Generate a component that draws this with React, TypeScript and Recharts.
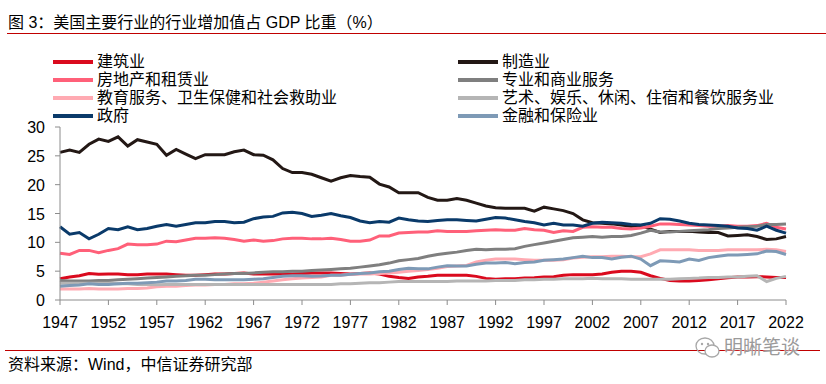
import React from "react";
import { Line, LineChart, XAxis, YAxis } from "recharts";

// 1947 - 2022, annual
const years = Array.from({ length: 76 }, (_, i) => 1947 + i);

const xTicks = [1947, 1952, 1957, 1962, 1967, 1972, 1977, 1982, 1987, 1992, 1997, 2002, 2007, 2012, 2017, 2022];
const yTicks = [0, 5, 10, 15, 20, 25, 30];

// 建筑业
const construction = [
  3.7, 4.0, 4.2, 4.6, 4.45, 4.5, 4.5, 4.4, 4.4, 4.5, 4.5, 4.5, 4.4, 4.3, 4.3, 4.4, 4.5, 4.5, 4.6, 4.7,
  4.5, 4.5, 4.5, 4.5, 4.5, 4.6, 4.7, 4.7, 4.7, 4.6, 4.5, 4.6, 4.7, 4.5, 4.1, 3.9, 3.75, 4.0, 4.1, 4.3,
  4.3, 4.3, 4.3, 4.1, 3.75, 3.6, 3.7, 3.7, 3.8, 3.85, 4.0, 4.05, 4.3, 4.4, 4.4, 4.4, 4.5, 4.8, 5.0, 5.0,
  4.8, 4.2, 3.75, 3.4, 3.3, 3.3, 3.4, 3.5, 3.7, 3.85, 4.0, 4.0, 4.05, 4.0, 3.9, 3.9,
];

// 制造业
const manufacturing = [
  25.6, 26.0, 25.6, 27.0, 27.9, 27.5, 28.3, 26.7, 27.8, 27.4, 27.0, 25.1, 26.1, 25.3, 24.5, 25.2, 25.2, 25.2, 25.7, 26.0,
  25.2, 25.1, 24.3, 22.8, 22.1, 22.1, 21.8, 21.2, 20.6, 21.2, 21.6, 21.4, 21.3, 20.1, 19.6, 18.6, 18.6, 18.6, 17.8, 17.3,
  17.3, 17.6, 17.3, 16.8, 16.3, 16.0, 15.9, 15.9, 15.9, 15.4, 16.1, 15.8, 15.5, 15.0, 13.9, 13.4, 13.3, 13.2, 13.0, 12.8,
  12.9, 12.3, 11.7, 11.9, 11.9, 11.9, 11.8, 11.7, 11.7, 11.1, 11.2, 11.3, 11.0, 10.5, 10.6, 11.0,
];

// 房地产和租赁业
const realEstate = [
  8.1, 7.9, 8.6, 8.6, 8.2, 8.6, 8.9, 9.7, 9.6, 9.6, 9.7, 10.2, 10.1, 10.4, 10.7, 10.7, 10.8, 10.7, 10.5, 10.2,
  10.4, 10.2, 10.3, 10.6, 10.7, 10.7, 10.6, 10.6, 10.7, 10.5, 10.2, 10.2, 10.4, 11.1, 11.1, 11.6, 11.7, 11.8, 11.8, 12.0,
  11.9, 11.9, 11.9, 12.0, 12.1, 12.2, 12.1, 12.1, 12.4, 12.2, 12.1, 11.7, 12.0, 11.9, 12.6, 12.7, 12.6, 12.6, 12.4, 12.3,
  12.5, 12.8, 13.2, 13.2, 13.1, 13.0, 12.9, 12.8, 12.8, 12.9, 12.8, 12.8, 12.9, 13.3, 12.6, 12.3,
];

// 专业和商业服务
const professional = [
  3.4, 3.3, 3.3, 3.3, 3.4, 3.4, 3.5, 3.6, 3.7, 3.8, 3.9, 4.0, 4.1, 4.2, 4.3, 4.3, 4.4, 4.5, 4.6, 4.6,
  4.7, 4.8, 4.9, 4.9, 5.0, 5.0, 5.1, 5.2, 5.3, 5.4, 5.5, 5.7, 5.9, 6.1, 6.4, 6.8, 7.0, 7.2, 7.6, 7.9,
  8.1, 8.3, 8.6, 8.8, 8.7, 8.8, 8.8, 8.9, 9.3, 9.6, 9.9, 10.2, 10.5, 10.8, 10.9, 11.0, 10.9, 11.0, 11.0, 11.2,
  11.6, 12.1, 11.8, 11.8, 11.9, 12.0, 12.1, 12.2, 12.4, 12.5, 12.6, 12.7, 12.8, 13.1, 13.1, 13.2,
];

// 教育服务、卫生保健和社会救助业
const education = [
  1.9, 1.9, 1.9, 2.0, 1.9, 1.9, 1.9, 2.0, 2.0, 2.1, 2.3, 2.4, 2.4, 2.5, 2.6, 2.6, 2.7, 2.7, 2.8, 2.8,
  2.9, 3.1, 3.3, 3.5, 3.7, 3.8, 3.9, 4.0, 4.3, 4.3, 4.45, 4.5, 4.5, 4.6, 4.7, 4.8, 5.0, 5.1, 5.3, 5.5,
  5.8, 5.9, 6.0, 6.6, 6.9, 7.1, 7.1, 7.1, 7.0, 6.9, 6.9, 6.9, 7.0, 7.3, 7.4, 7.5, 7.5, 7.6, 7.6, 7.5,
  7.5, 8.0, 8.7, 8.7, 8.7, 8.7, 8.6, 8.6, 8.6, 8.7, 8.7, 8.7, 8.7, 8.8, 8.7, 8.4,
];

// 艺术、娱乐、休闲、住宿和餐饮服务业
const arts = [
  2.9, 2.9, 2.9, 2.9, 2.9, 2.9, 2.8, 2.8, 2.7, 2.7, 2.65, 2.7, 2.7, 2.7, 2.7, 2.7, 2.7, 2.7, 2.7, 2.7,
  2.7, 2.7, 2.7, 2.7, 2.7, 2.7, 2.7, 2.7, 2.7, 2.8, 2.8, 2.9, 3.0, 3.0, 3.1, 3.2, 3.2, 3.2, 3.2, 3.2,
  3.2, 3.3, 3.3, 3.3, 3.3, 3.4, 3.4, 3.4, 3.5, 3.5, 3.6, 3.6, 3.7, 3.7, 3.7, 3.75, 3.7, 3.7, 3.7, 3.6,
  3.6, 3.6, 3.6, 3.6, 3.7, 3.75, 3.8, 3.9, 3.9, 4.0, 4.0, 4.1, 4.2, 3.2, 3.75, 4.1,
];

// 政府
const government = [
  12.7, 11.4, 11.7, 10.6, 11.4, 12.4, 12.2, 12.7, 12.2, 12.4, 12.8, 13.1, 12.8, 13.1, 13.4, 13.4, 13.6, 13.6, 13.4, 13.5,
  14.1, 14.4, 14.5, 15.1, 15.2, 15.0, 14.5, 14.7, 15.0, 14.6, 14.3, 13.7, 13.4, 13.6, 13.5, 14.2, 13.9, 13.7, 13.6, 13.8,
  13.9, 13.9, 13.8, 13.7, 14.0, 14.3, 14.2, 13.9, 13.6, 13.4, 13.0, 13.3, 13.0, 13.0, 12.8, 13.3, 13.5, 13.4, 13.3, 13.1,
  13.0, 13.3, 14.1, 14.0, 13.7, 13.3, 13.1, 13.0, 12.9, 12.8, 12.5, 12.4, 12.1, 12.8, 12.1, 11.6,
];

// 金融和保险业
const finance = [
  2.4, 2.5, 2.6, 2.8, 2.7, 2.7, 2.8, 2.9, 2.9, 3.0, 3.1, 3.3, 3.3, 3.4, 3.6, 3.6, 3.5, 3.5, 3.5, 3.5,
  3.6, 3.7, 3.9, 4.1, 4.2, 4.2, 4.1, 4.15, 4.3, 4.3, 4.45, 4.6, 4.7, 4.9, 5.0, 5.3, 5.5, 5.4, 5.4, 5.7,
  5.95, 5.9, 5.9, 6.2, 6.4, 6.4, 6.5, 6.3, 6.5, 6.6, 6.9, 7.0, 7.1, 7.35, 7.6, 7.35, 7.35, 7.1, 7.4, 7.6,
  7.1, 5.95, 6.8, 6.7, 6.6, 7.1, 6.85, 7.35, 7.6, 7.8, 7.8, 7.9, 8.0, 8.5, 8.4, 7.9,
];

const series = [
  { key: "construction", name: "建筑业", color: "#DA0A1E", values: construction },
  { key: "manufacturing", name: "制造业", color: "#231815", values: manufacturing },
  { key: "realEstate", name: "房地产和租赁业", color: "#FF6079", values: realEstate },
  { key: "professional", name: "专业和商业服务", color: "#7F7F7F", values: professional },
  { key: "education", name: "教育服务、卫生保健和社会救助业", color: "#FFAAB2", values: education },
  { key: "arts", name: "艺术、娱乐、休闲、住宿和餐饮服务业", color: "#B5B5B5", values: arts },
  { key: "government", name: "政府", color: "#0A3A6A", values: government },
  { key: "finance", name: "金融和保险业", color: "#7E9AB6", values: finance },
];

const data = years.map((year, i) => {
  const row: Record<string, number> = { year };
  series.forEach((s) => (row[s.key] = s.values[i]));
  return row;
});

const FONT = "'Liberation Sans', Arial, 'Noto Sans CJK SC', sans-serif";

const XTick = ({ x, y, payload }: any) => (
  <text x={x} y={y + 21} textAnchor="middle" fontSize={16} fill="#000" fontFamily={FONT}>
    {payload.value}
  </text>
);

const YTick = ({ x, y, payload }: any) => (
  <text x={x - 8} y={y + 6} textAnchor="end" fontSize={16} fill="#000" fontFamily={FONT}>
    {payload.value}
  </text>
);

const LegendItem = ({ name, color, left, top }: { name: string; color: string; left: number; top: number }) => (
  <div style={{ position: "absolute", left, top, height: 18, display: "flex", alignItems: "center" }}>
    <span style={{ width: 40, height: 4, background: color, display: "inline-block", marginRight: 4 }} />
    <span style={{ fontSize: 16, lineHeight: "18px", whiteSpace: "nowrap", color: "#000" }}>{name}</span>
  </div>
);

export default function App() {
  const rowTops = [53, 71, 89, 107];
  return (
    <div
      style={{
        position: "absolute",
        left: 0,
        top: 0,
        width: 826,
        height: 384,
        background: "#fff",
        fontFamily: FONT,
        overflow: "hidden",
      }}
    >
      <div style={{ position: "absolute", left: 8, top: 13, fontSize: 16, lineHeight: "20px", color: "#000", whiteSpace: "nowrap" }}>
        图 3：美国主要行业的行业增加值占 GDP 比重（%）
      </div>
      <div style={{ position: "absolute", left: 7, top: 33, width: 819, height: 1, background: "#C00000" }} />

      {series.map((s, i) => (
        <LegendItem
          key={s.key}
          name={s.name}
          color={s.color}
          left={i % 2 === 0 ? 53 : 458}
          top={rowTops[Math.floor(i / 2)]}
        />
      ))}

      <div style={{ position: "absolute", left: 0, top: 0 }}>
        <LineChart width={826} height={384} data={data} margin={{ top: 127, right: 40, bottom: 54, left: 0 }}>
          <XAxis
            dataKey="year"
            type="number"
            domain={[1947, 2022]}
            ticks={xTicks}
            height={30}
            stroke="#8C8C8C"
            tickSize={5}
            tick={<XTick />}
            interval={0}
          />
          <YAxis
            type="number"
            domain={[0, 30]}
            ticks={yTicks}
            width={60}
            stroke="#8C8C8C"
            tickSize={5}
            tick={<YTick />}
            interval={0}
          />
          {series.map((s) => (
            <Line
              key={s.key}
              type="linear"
              dataKey={s.key}
              name={s.name}
              stroke={s.color}
              strokeWidth={3}
              dot={false}
              isAnimationActive={false}
            />
          ))}
        </LineChart>
      </div>

      <div style={{ position: "absolute", left: 5, top: 350, width: 815, height: 1, background: "#C00000" }} />
      <div style={{ position: "absolute", left: 8, top: 355, fontSize: 16, lineHeight: "20px", color: "#000", whiteSpace: "nowrap" }}>
        资料来源：Wind，中信证券研究部
      </div>
      {/* watermark */}
      <svg style={{ position: "absolute", left: 694, top: 335 }} width={28} height={26}>
        <ellipse cx={11} cy={11} rx={9} ry={8} fill="none" stroke="#A8A8A8" strokeWidth={1.3} />
        <ellipse cx={18} cy={16} rx={7} ry={6} fill="#fff" stroke="#A8A8A8" strokeWidth={1.3} />
        <circle cx={8} cy={9} r={1.2} fill="#A8A8A8" />
        <circle cx={14} cy={9} r={1.2} fill="#A8A8A8" />
      </svg>
      <div
        style={{
          position: "absolute",
          left: 724,
          top: 337,
          fontSize: 19,
          lineHeight: "22px",
          color: "#9A9A9A",
          whiteSpace: "nowrap",
          textShadow: "0 0 2px #fff",
        }}
      >
        明晰笔谈
      </div>
    </div>
  );
}
